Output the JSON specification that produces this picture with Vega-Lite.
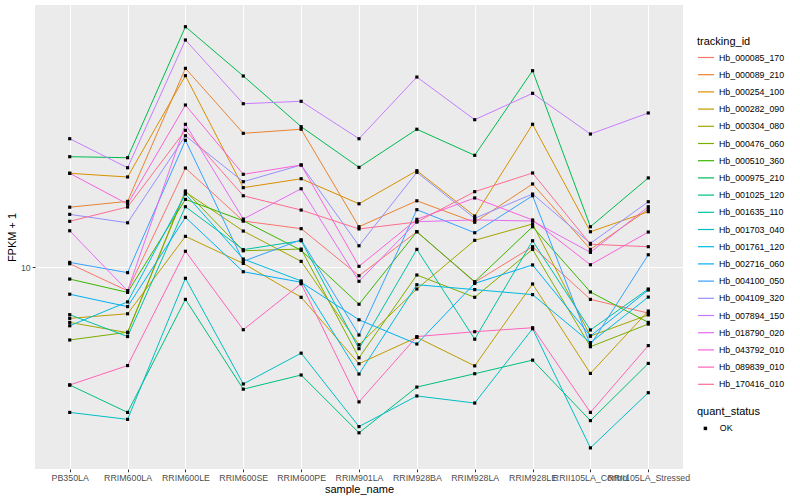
{
"$schema": "https://vega.github.io/schema/vega-lite/v6.json",
"autosize": {"type": "none"},
"padding": {"left": 35, "top": 5, "right": 117, "bottom": 31},
"width": 648,
"height": 464,
"background": "white",
"config": {
  "view": {"fill": "#EBEBEB", "stroke": null},
  "font": "Liberation Sans",
  "axis": {"domain": false, "tickColor": "#333333", "tickSize": 2.75, "tickWidth": 1, "labelColor": "#4D4D4D", "labelFontSize": 8.8, "labelFont": "Liberation Sans", "titleFont": "Liberation Sans", "titleFontSize": 11, "titleFontWeight": "normal", "titleColor": "black", "gridColor": "white", "gridWidth": 1.1, "labelPadding": 2},
  "legend": {"titleFont": "Liberation Sans", "titleFontSize": 11, "titleFontWeight": "normal", "titleColor": "black", "labelFont": "Liberation Sans", "labelFontSize": 8.8, "labelColor": "black", "padding": 0}
},
"data": {"values": [
{"tracking_id":"Hb_000085_170","sample_name":"PB350LA","fpkm":10.19,"quant_status":"OK"},
{"tracking_id":"Hb_000085_170","sample_name":"RRIM600LA","fpkm":8.72,"quant_status":"OK"},
{"tracking_id":"Hb_000085_170","sample_name":"RRIM600LE","fpkm":17.68,"quant_status":"OK"},
{"tracking_id":"Hb_000085_170","sample_name":"RRIM600SE","fpkm":13.03,"quant_status":"OK"},
{"tracking_id":"Hb_000085_170","sample_name":"RRIM600PE","fpkm":12.47,"quant_status":"OK"},
{"tracking_id":"Hb_000085_170","sample_name":"RRIM901LA","fpkm":9.51,"quant_status":"OK"},
{"tracking_id":"Hb_000085_170","sample_name":"RRIM928BA","fpkm":12.25,"quant_status":"OK"},
{"tracking_id":"Hb_000085_170","sample_name":"RRIM928LA","fpkm":9.16,"quant_status":"OK"},
{"tracking_id":"Hb_000085_170","sample_name":"RRIM928LE","fpkm":11.24,"quant_status":"OK"},
{"tracking_id":"Hb_000085_170","sample_name":"RRII105LA_Control","fpkm":8.30,"quant_status":"OK"},
{"tracking_id":"Hb_000085_170","sample_name":"RRII105LA_Stressed","fpkm":7.67,"quant_status":"OK"},
{"tracking_id":"Hb_000089_210","sample_name":"PB350LA","fpkm":14.11,"quant_status":"OK"},
{"tracking_id":"Hb_000089_210","sample_name":"RRIM600LA","fpkm":14.59,"quant_status":"OK"},
{"tracking_id":"Hb_000089_210","sample_name":"RRIM600LE","fpkm":31.39,"quant_status":"OK"},
{"tracking_id":"Hb_000089_210","sample_name":"RRIM600SE","fpkm":21.59,"quant_status":"OK"},
{"tracking_id":"Hb_000089_210","sample_name":"RRIM600PE","fpkm":22.10,"quant_status":"OK"},
{"tracking_id":"Hb_000089_210","sample_name":"RRIM901LA","fpkm":12.61,"quant_status":"OK"},
{"tracking_id":"Hb_000089_210","sample_name":"RRIM928BA","fpkm":14.64,"quant_status":"OK"},
{"tracking_id":"Hb_000089_210","sample_name":"RRIM928LA","fpkm":12.94,"quant_status":"OK"},
{"tracking_id":"Hb_000089_210","sample_name":"RRIM928LE","fpkm":16.13,"quant_status":"OK"},
{"tracking_id":"Hb_000089_210","sample_name":"RRII105LA_Control","fpkm":11.07,"quant_status":"OK"},
{"tracking_id":"Hb_000089_210","sample_name":"RRII105LA_Stressed","fpkm":13.94,"quant_status":"OK"},
{"tracking_id":"Hb_000254_100","sample_name":"PB350LA","fpkm":17.15,"quant_status":"OK"},
{"tracking_id":"Hb_000254_100","sample_name":"RRIM600LA","fpkm":16.79,"quant_status":"OK"},
{"tracking_id":"Hb_000254_100","sample_name":"RRIM600LE","fpkm":30.08,"quant_status":"OK"},
{"tracking_id":"Hb_000254_100","sample_name":"RRIM600SE","fpkm":15.79,"quant_status":"OK"},
{"tracking_id":"Hb_000254_100","sample_name":"RRIM600PE","fpkm":16.62,"quant_status":"OK"},
{"tracking_id":"Hb_000254_100","sample_name":"RRIM901LA","fpkm":14.39,"quant_status":"OK"},
{"tracking_id":"Hb_000254_100","sample_name":"RRIM928BA","fpkm":17.41,"quant_status":"OK"},
{"tracking_id":"Hb_000254_100","sample_name":"RRIM928LA","fpkm":13.41,"quant_status":"OK"},
{"tracking_id":"Hb_000254_100","sample_name":"RRIM928LE","fpkm":22.74,"quant_status":"OK"},
{"tracking_id":"Hb_000254_100","sample_name":"RRII105LA_Control","fpkm":12.25,"quant_status":"OK"},
{"tracking_id":"Hb_000254_100","sample_name":"RRII105LA_Stressed","fpkm":13.75,"quant_status":"OK"},
{"tracking_id":"Hb_000282_090","sample_name":"PB350LA","fpkm":7.44,"quant_status":"OK"},
{"tracking_id":"Hb_000282_090","sample_name":"RRIM600LA","fpkm":7.64,"quant_status":"OK"},
{"tracking_id":"Hb_000282_090","sample_name":"RRIM600LE","fpkm":11.93,"quant_status":"OK"},
{"tracking_id":"Hb_000282_090","sample_name":"RRIM600SE","fpkm":10.21,"quant_status":"OK"},
{"tracking_id":"Hb_000282_090","sample_name":"RRIM600PE","fpkm":8.40,"quant_status":"OK"},
{"tracking_id":"Hb_000282_090","sample_name":"RRIM901LA","fpkm":5.73,"quant_status":"OK"},
{"tracking_id":"Hb_000282_090","sample_name":"RRIM928BA","fpkm":6.67,"quant_status":"OK"},
{"tracking_id":"Hb_000282_090","sample_name":"RRIM928LA","fpkm":5.66,"quant_status":"OK"},
{"tracking_id":"Hb_000282_090","sample_name":"RRIM928LE","fpkm":9.07,"quant_status":"OK"},
{"tracking_id":"Hb_000282_090","sample_name":"RRII105LA_Control","fpkm":5.42,"quant_status":"OK"},
{"tracking_id":"Hb_000282_090","sample_name":"RRII105LA_Stressed","fpkm":7.76,"quant_status":"OK"},
{"tracking_id":"Hb_000304_080","sample_name":"PB350LA","fpkm":7.27,"quant_status":"OK"},
{"tracking_id":"Hb_000304_080","sample_name":"RRIM600LA","fpkm":6.85,"quant_status":"OK"},
{"tracking_id":"Hb_000304_080","sample_name":"RRIM600LE","fpkm":15.40,"quant_status":"OK"},
{"tracking_id":"Hb_000304_080","sample_name":"RRIM600SE","fpkm":12.30,"quant_status":"OK"},
{"tracking_id":"Hb_000304_080","sample_name":"RRIM600PE","fpkm":10.33,"quant_status":"OK"},
{"tracking_id":"Hb_000304_080","sample_name":"RRIM901LA","fpkm":6.39,"quant_status":"OK"},
{"tracking_id":"Hb_000304_080","sample_name":"RRIM928BA","fpkm":8.81,"quant_status":"OK"},
{"tracking_id":"Hb_000304_080","sample_name":"RRIM928LA","fpkm":11.66,"quant_status":"OK"},
{"tracking_id":"Hb_000304_080","sample_name":"RRIM928LE","fpkm":12.81,"quant_status":"OK"},
{"tracking_id":"Hb_000304_080","sample_name":"RRII105LA_Control","fpkm":6.72,"quant_status":"OK"},
{"tracking_id":"Hb_000304_080","sample_name":"RRII105LA_Stressed","fpkm":7.59,"quant_status":"OK"},
{"tracking_id":"Hb_000476_060","sample_name":"PB350LA","fpkm":6.57,"quant_status":"OK"},
{"tracking_id":"Hb_000476_060","sample_name":"RRIM600LA","fpkm":6.87,"quant_status":"OK"},
{"tracking_id":"Hb_000476_060","sample_name":"RRIM600LE","fpkm":15.49,"quant_status":"OK"},
{"tracking_id":"Hb_000476_060","sample_name":"RRIM600SE","fpkm":10.98,"quant_status":"OK"},
{"tracking_id":"Hb_000476_060","sample_name":"RRIM600PE","fpkm":11.09,"quant_status":"OK"},
{"tracking_id":"Hb_000476_060","sample_name":"RRIM901LA","fpkm":5.93,"quant_status":"OK"},
{"tracking_id":"Hb_000476_060","sample_name":"RRIM928BA","fpkm":9.55,"quant_status":"OK"},
{"tracking_id":"Hb_000476_060","sample_name":"RRIM928LA","fpkm":8.40,"quant_status":"OK"},
{"tracking_id":"Hb_000476_060","sample_name":"RRIM928LE","fpkm":11.07,"quant_status":"OK"},
{"tracking_id":"Hb_000476_060","sample_name":"RRII105LA_Control","fpkm":6.32,"quant_status":"OK"},
{"tracking_id":"Hb_000476_060","sample_name":"RRII105LA_Stressed","fpkm":7.20,"quant_status":"OK"},
{"tracking_id":"Hb_000510_360","sample_name":"PB350LA","fpkm":9.33,"quant_status":"OK"},
{"tracking_id":"Hb_000510_360","sample_name":"RRIM600LA","fpkm":8.64,"quant_status":"OK"},
{"tracking_id":"Hb_000510_360","sample_name":"RRIM600LE","fpkm":14.76,"quant_status":"OK"},
{"tracking_id":"Hb_000510_360","sample_name":"RRIM600SE","fpkm":13.05,"quant_status":"OK"},
{"tracking_id":"Hb_000510_360","sample_name":"RRIM600PE","fpkm":11.01,"quant_status":"OK"},
{"tracking_id":"Hb_000510_360","sample_name":"RRIM901LA","fpkm":8.07,"quant_status":"OK"},
{"tracking_id":"Hb_000510_360","sample_name":"RRIM928BA","fpkm":12.25,"quant_status":"OK"},
{"tracking_id":"Hb_000510_360","sample_name":"RRIM928LA","fpkm":9.19,"quant_status":"OK"},
{"tracking_id":"Hb_000510_360","sample_name":"RRIM928LE","fpkm":12.61,"quant_status":"OK"},
{"tracking_id":"Hb_000510_360","sample_name":"RRII105LA_Control","fpkm":8.66,"quant_status":"OK"},
{"tracking_id":"Hb_000510_360","sample_name":"RRII105LA_Stressed","fpkm":7.27,"quant_status":"OK"},
{"tracking_id":"Hb_000975_210","sample_name":"PB350LA","fpkm":18.87,"quant_status":"OK"},
{"tracking_id":"Hb_000975_210","sample_name":"RRIM600LA","fpkm":18.76,"quant_status":"OK"},
{"tracking_id":"Hb_000975_210","sample_name":"RRIM600LE","fpkm":39.88,"quant_status":"OK"},
{"tracking_id":"Hb_000975_210","sample_name":"RRIM600SE","fpkm":30.03,"quant_status":"OK"},
{"tracking_id":"Hb_000975_210","sample_name":"RRIM600PE","fpkm":22.43,"quant_status":"OK"},
{"tracking_id":"Hb_000975_210","sample_name":"RRIM901LA","fpkm":17.75,"quant_status":"OK"},
{"tracking_id":"Hb_000975_210","sample_name":"RRIM928BA","fpkm":22.10,"quant_status":"OK"},
{"tracking_id":"Hb_000975_210","sample_name":"RRIM928LA","fpkm":19.02,"quant_status":"OK"},
{"tracking_id":"Hb_000975_210","sample_name":"RRIM928LE","fpkm":30.96,"quant_status":"OK"},
{"tracking_id":"Hb_000975_210","sample_name":"RRII105LA_Control","fpkm":12.61,"quant_status":"OK"},
{"tracking_id":"Hb_000975_210","sample_name":"RRII105LA_Stressed","fpkm":16.70,"quant_status":"OK"},
{"tracking_id":"Hb_001025_120","sample_name":"PB350LA","fpkm":5.07,"quant_status":"OK"},
{"tracking_id":"Hb_001025_120","sample_name":"RRIM600LA","fpkm":4.33,"quant_status":"OK"},
{"tracking_id":"Hb_001025_120","sample_name":"RRIM600LE","fpkm":8.30,"quant_status":"OK"},
{"tracking_id":"Hb_001025_120","sample_name":"RRIM600SE","fpkm":4.95,"quant_status":"OK"},
{"tracking_id":"Hb_001025_120","sample_name":"RRIM600PE","fpkm":5.37,"quant_status":"OK"},
{"tracking_id":"Hb_001025_120","sample_name":"RRIM901LA","fpkm":3.85,"quant_status":"OK"},
{"tracking_id":"Hb_001025_120","sample_name":"RRIM928BA","fpkm":5.01,"quant_status":"OK"},
{"tracking_id":"Hb_001025_120","sample_name":"RRIM928LA","fpkm":5.41,"quant_status":"OK"},
{"tracking_id":"Hb_001025_120","sample_name":"RRIM928LE","fpkm":5.85,"quant_status":"OK"},
{"tracking_id":"Hb_001025_120","sample_name":"RRII105LA_Control","fpkm":4.13,"quant_status":"OK"},
{"tracking_id":"Hb_001025_120","sample_name":"RRII105LA_Stressed","fpkm":5.74,"quant_status":"OK"},
{"tracking_id":"Hb_001635_110","sample_name":"PB350LA","fpkm":7.60,"quant_status":"OK"},
{"tracking_id":"Hb_001635_110","sample_name":"RRIM600LA","fpkm":6.70,"quant_status":"OK"},
{"tracking_id":"Hb_001635_110","sample_name":"RRIM600LE","fpkm":14.15,"quant_status":"OK"},
{"tracking_id":"Hb_001635_110","sample_name":"RRIM600SE","fpkm":11.05,"quant_status":"OK"},
{"tracking_id":"Hb_001635_110","sample_name":"RRIM600PE","fpkm":11.63,"quant_status":"OK"},
{"tracking_id":"Hb_001635_110","sample_name":"RRIM901LA","fpkm":6.25,"quant_status":"OK"},
{"tracking_id":"Hb_001635_110","sample_name":"RRIM928BA","fpkm":11.07,"quant_status":"OK"},
{"tracking_id":"Hb_001635_110","sample_name":"RRIM928LA","fpkm":6.60,"quant_status":"OK"},
{"tracking_id":"Hb_001635_110","sample_name":"RRIM928LE","fpkm":11.63,"quant_status":"OK"},
{"tracking_id":"Hb_001635_110","sample_name":"RRII105LA_Control","fpkm":6.96,"quant_status":"OK"},
{"tracking_id":"Hb_001635_110","sample_name":"RRII105LA_Stressed","fpkm":8.81,"quant_status":"OK"},
{"tracking_id":"Hb_001703_040","sample_name":"PB350LA","fpkm":4.33,"quant_status":"OK"},
{"tracking_id":"Hb_001703_040","sample_name":"RRIM600LA","fpkm":4.16,"quant_status":"OK"},
{"tracking_id":"Hb_001703_040","sample_name":"RRIM600LE","fpkm":9.37,"quant_status":"OK"},
{"tracking_id":"Hb_001703_040","sample_name":"RRIM600SE","fpkm":5.10,"quant_status":"OK"},
{"tracking_id":"Hb_001703_040","sample_name":"RRIM600PE","fpkm":6.09,"quant_status":"OK"},
{"tracking_id":"Hb_001703_040","sample_name":"RRIM901LA","fpkm":3.99,"quant_status":"OK"},
{"tracking_id":"Hb_001703_040","sample_name":"RRIM928BA","fpkm":4.76,"quant_status":"OK"},
{"tracking_id":"Hb_001703_040","sample_name":"RRIM928LA","fpkm":4.57,"quant_status":"OK"},
{"tracking_id":"Hb_001703_040","sample_name":"RRIM928LE","fpkm":7.01,"quant_status":"OK"},
{"tracking_id":"Hb_001703_040","sample_name":"RRII105LA_Control","fpkm":3.53,"quant_status":"OK"},
{"tracking_id":"Hb_001703_040","sample_name":"RRII105LA_Stressed","fpkm":4.85,"quant_status":"OK"},
{"tracking_id":"Hb_001761_120","sample_name":"PB350LA","fpkm":7.13,"quant_status":"OK"},
{"tracking_id":"Hb_001761_120","sample_name":"RRIM600LA","fpkm":8.18,"quant_status":"OK"},
{"tracking_id":"Hb_001761_120","sample_name":"RRIM600LE","fpkm":15.22,"quant_status":"OK"},
{"tracking_id":"Hb_001761_120","sample_name":"RRIM600SE","fpkm":10.47,"quant_status":"OK"},
{"tracking_id":"Hb_001761_120","sample_name":"RRIM600PE","fpkm":9.23,"quant_status":"OK"},
{"tracking_id":"Hb_001761_120","sample_name":"RRIM901LA","fpkm":5.40,"quant_status":"OK"},
{"tracking_id":"Hb_001761_120","sample_name":"RRIM928BA","fpkm":9.03,"quant_status":"OK"},
{"tracking_id":"Hb_001761_120","sample_name":"RRIM928LA","fpkm":8.78,"quant_status":"OK"},
{"tracking_id":"Hb_001761_120","sample_name":"RRIM928LE","fpkm":8.53,"quant_status":"OK"},
{"tracking_id":"Hb_001761_120","sample_name":"RRII105LA_Control","fpkm":6.47,"quant_status":"OK"},
{"tracking_id":"Hb_001761_120","sample_name":"RRII105LA_Stressed","fpkm":8.41,"quant_status":"OK"},
{"tracking_id":"Hb_002716_060","sample_name":"PB350LA","fpkm":8.55,"quant_status":"OK"},
{"tracking_id":"Hb_002716_060","sample_name":"RRIM600LA","fpkm":7.96,"quant_status":"OK"},
{"tracking_id":"Hb_002716_060","sample_name":"RRIM600LE","fpkm":13.31,"quant_status":"OK"},
{"tracking_id":"Hb_002716_060","sample_name":"RRIM600SE","fpkm":9.73,"quant_status":"OK"},
{"tracking_id":"Hb_002716_060","sample_name":"RRIM600PE","fpkm":9.16,"quant_status":"OK"},
{"tracking_id":"Hb_002716_060","sample_name":"RRIM901LA","fpkm":7.38,"quant_status":"OK"},
{"tracking_id":"Hb_002716_060","sample_name":"RRIM928BA","fpkm":6.42,"quant_status":"OK"},
{"tracking_id":"Hb_002716_060","sample_name":"RRIM928LA","fpkm":9.10,"quant_status":"OK"},
{"tracking_id":"Hb_002716_060","sample_name":"RRIM928LE","fpkm":10.12,"quant_status":"OK"},
{"tracking_id":"Hb_002716_060","sample_name":"RRII105LA_Control","fpkm":6.72,"quant_status":"OK"},
{"tracking_id":"Hb_002716_060","sample_name":"RRII105LA_Stressed","fpkm":8.76,"quant_status":"OK"},
{"tracking_id":"Hb_004100_050","sample_name":"PB350LA","fpkm":10.27,"quant_status":"OK"},
{"tracking_id":"Hb_004100_050","sample_name":"RRIM600LA","fpkm":9.68,"quant_status":"OK"},
{"tracking_id":"Hb_004100_050","sample_name":"RRIM600LE","fpkm":20.74,"quant_status":"OK"},
{"tracking_id":"Hb_004100_050","sample_name":"RRIM600SE","fpkm":10.33,"quant_status":"OK"},
{"tracking_id":"Hb_004100_050","sample_name":"RRIM600PE","fpkm":11.70,"quant_status":"OK"},
{"tracking_id":"Hb_004100_050","sample_name":"RRIM901LA","fpkm":6.76,"quant_status":"OK"},
{"tracking_id":"Hb_004100_050","sample_name":"RRIM928BA","fpkm":13.91,"quant_status":"OK"},
{"tracking_id":"Hb_004100_050","sample_name":"RRIM928LA","fpkm":12.18,"quant_status":"OK"},
{"tracking_id":"Hb_004100_050","sample_name":"RRIM928LE","fpkm":15.07,"quant_status":"OK"},
{"tracking_id":"Hb_004100_050","sample_name":"RRII105LA_Control","fpkm":6.38,"quant_status":"OK"},
{"tracking_id":"Hb_004100_050","sample_name":"RRII105LA_Stressed","fpkm":10.73,"quant_status":"OK"},
{"tracking_id":"Hb_004109_320","sample_name":"PB350LA","fpkm":13.54,"quant_status":"OK"},
{"tracking_id":"Hb_004109_320","sample_name":"RRIM600LA","fpkm":12.90,"quant_status":"OK"},
{"tracking_id":"Hb_004109_320","sample_name":"RRIM600LE","fpkm":21.29,"quant_status":"OK"},
{"tracking_id":"Hb_004109_320","sample_name":"RRIM600SE","fpkm":16.34,"quant_status":"OK"},
{"tracking_id":"Hb_004109_320","sample_name":"RRIM600PE","fpkm":17.99,"quant_status":"OK"},
{"tracking_id":"Hb_004109_320","sample_name":"RRIM901LA","fpkm":11.30,"quant_status":"OK"},
{"tracking_id":"Hb_004109_320","sample_name":"RRIM928BA","fpkm":17.25,"quant_status":"OK"},
{"tracking_id":"Hb_004109_320","sample_name":"RRIM928LA","fpkm":13.24,"quant_status":"OK"},
{"tracking_id":"Hb_004109_320","sample_name":"RRIM928LE","fpkm":15.22,"quant_status":"OK"},
{"tracking_id":"Hb_004109_320","sample_name":"RRII105LA_Control","fpkm":11.46,"quant_status":"OK"},
{"tracking_id":"Hb_004109_320","sample_name":"RRII105LA_Stressed","fpkm":14.56,"quant_status":"OK"},
{"tracking_id":"Hb_007894_150","sample_name":"PB350LA","fpkm":20.93,"quant_status":"OK"},
{"tracking_id":"Hb_007894_150","sample_name":"RRIM600LA","fpkm":17.71,"quant_status":"OK"},
{"tracking_id":"Hb_007894_150","sample_name":"RRIM600LE","fpkm":36.94,"quant_status":"OK"},
{"tracking_id":"Hb_007894_150","sample_name":"RRIM600SE","fpkm":25.60,"quant_status":"OK"},
{"tracking_id":"Hb_007894_150","sample_name":"RRIM600PE","fpkm":25.96,"quant_status":"OK"},
{"tracking_id":"Hb_007894_150","sample_name":"RRIM901LA","fpkm":20.93,"quant_status":"OK"},
{"tracking_id":"Hb_007894_150","sample_name":"RRIM928BA","fpkm":29.85,"quant_status":"OK"},
{"tracking_id":"Hb_007894_150","sample_name":"RRIM928LA","fpkm":23.35,"quant_status":"OK"},
{"tracking_id":"Hb_007894_150","sample_name":"RRIM928LE","fpkm":27.18,"quant_status":"OK"},
{"tracking_id":"Hb_007894_150","sample_name":"RRII105LA_Control","fpkm":21.50,"quant_status":"OK"},
{"tracking_id":"Hb_007894_150","sample_name":"RRII105LA_Stressed","fpkm":24.27,"quant_status":"OK"},
{"tracking_id":"Hb_018790_020","sample_name":"PB350LA","fpkm":12.32,"quant_status":"OK"},
{"tracking_id":"Hb_018790_020","sample_name":"RRIM600LA","fpkm":8.72,"quant_status":"OK"},
{"tracking_id":"Hb_018790_020","sample_name":"RRIM600LE","fpkm":22.74,"quant_status":"OK"},
{"tracking_id":"Hb_018790_020","sample_name":"RRIM600SE","fpkm":13.18,"quant_status":"OK"},
{"tracking_id":"Hb_018790_020","sample_name":"RRIM600PE","fpkm":15.69,"quant_status":"OK"},
{"tracking_id":"Hb_018790_020","sample_name":"RRIM901LA","fpkm":9.21,"quant_status":"OK"},
{"tracking_id":"Hb_018790_020","sample_name":"RRIM928BA","fpkm":12.98,"quant_status":"OK"},
{"tracking_id":"Hb_018790_020","sample_name":"RRIM928LA","fpkm":13.11,"quant_status":"OK"},
{"tracking_id":"Hb_018790_020","sample_name":"RRIM928LE","fpkm":13.03,"quant_status":"OK"},
{"tracking_id":"Hb_018790_020","sample_name":"RRII105LA_Control","fpkm":10.88,"quant_status":"OK"},
{"tracking_id":"Hb_018790_020","sample_name":"RRII105LA_Stressed","fpkm":14.15,"quant_status":"OK"},
{"tracking_id":"Hb_043792_010","sample_name":"PB350LA","fpkm":17.15,"quant_status":"OK"},
{"tracking_id":"Hb_043792_010","sample_name":"RRIM600LA","fpkm":14.37,"quant_status":"OK"},
{"tracking_id":"Hb_043792_010","sample_name":"RRIM600LE","fpkm":25.41,"quant_status":"OK"},
{"tracking_id":"Hb_043792_010","sample_name":"RRIM600SE","fpkm":17.05,"quant_status":"OK"},
{"tracking_id":"Hb_043792_010","sample_name":"RRIM600PE","fpkm":17.99,"quant_status":"OK"},
{"tracking_id":"Hb_043792_010","sample_name":"RRIM901LA","fpkm":10.04,"quant_status":"OK"},
{"tracking_id":"Hb_043792_010","sample_name":"RRIM928BA","fpkm":13.16,"quant_status":"OK"},
{"tracking_id":"Hb_043792_010","sample_name":"RRIM928LA","fpkm":14.88,"quant_status":"OK"},
{"tracking_id":"Hb_043792_010","sample_name":"RRIM928LE","fpkm":13.11,"quant_status":"OK"},
{"tracking_id":"Hb_043792_010","sample_name":"RRII105LA_Control","fpkm":10.13,"quant_status":"OK"},
{"tracking_id":"Hb_043792_010","sample_name":"RRII105LA_Stressed","fpkm":12.23,"quant_status":"OK"},
{"tracking_id":"Hb_089839_010","sample_name":"PB350LA","fpkm":5.07,"quant_status":"OK"},
{"tracking_id":"Hb_089839_010","sample_name":"RRIM600LA","fpkm":5.67,"quant_status":"OK"},
{"tracking_id":"Hb_089839_010","sample_name":"RRIM600LE","fpkm":10.95,"quant_status":"OK"},
{"tracking_id":"Hb_089839_010","sample_name":"RRIM600SE","fpkm":6.97,"quant_status":"OK"},
{"tracking_id":"Hb_089839_010","sample_name":"RRIM600PE","fpkm":9.08,"quant_status":"OK"},
{"tracking_id":"Hb_089839_010","sample_name":"RRIM901LA","fpkm":4.60,"quant_status":"OK"},
{"tracking_id":"Hb_089839_010","sample_name":"RRIM928BA","fpkm":6.70,"quant_status":"OK"},
{"tracking_id":"Hb_089839_010","sample_name":"RRIM928LA","fpkm":6.89,"quant_status":"OK"},
{"tracking_id":"Hb_089839_010","sample_name":"RRIM928LE","fpkm":7.05,"quant_status":"OK"},
{"tracking_id":"Hb_089839_010","sample_name":"RRII105LA_Control","fpkm":4.33,"quant_status":"OK"},
{"tracking_id":"Hb_089839_010","sample_name":"RRII105LA_Stressed","fpkm":6.36,"quant_status":"OK"},
{"tracking_id":"Hb_170416_010","sample_name":"PB350LA","fpkm":13.01,"quant_status":"OK"},
{"tracking_id":"Hb_170416_010","sample_name":"RRIM600LA","fpkm":14.13,"quant_status":"OK"},
{"tracking_id":"Hb_170416_010","sample_name":"RRIM600LE","fpkm":21.97,"quant_status":"OK"},
{"tracking_id":"Hb_170416_010","sample_name":"RRIM600SE","fpkm":15.07,"quant_status":"OK"},
{"tracking_id":"Hb_170416_010","sample_name":"RRIM600PE","fpkm":13.88,"quant_status":"OK"},
{"tracking_id":"Hb_170416_010","sample_name":"RRIM901LA","fpkm":12.45,"quant_status":"OK"},
{"tracking_id":"Hb_170416_010","sample_name":"RRIM928BA","fpkm":12.96,"quant_status":"OK"},
{"tracking_id":"Hb_170416_010","sample_name":"RRIM928LA","fpkm":15.43,"quant_status":"OK"},
{"tracking_id":"Hb_170416_010","sample_name":"RRIM928LE","fpkm":17.18,"quant_status":"OK"},
{"tracking_id":"Hb_170416_010","sample_name":"RRII105LA_Control","fpkm":11.40,"quant_status":"OK"},
{"tracking_id":"Hb_170416_010","sample_name":"RRII105LA_Stressed","fpkm":11.24,"quant_status":"OK"}
]},
"encoding": {
  "x": {"field": "sample_name", "type": "ordinal",
    "sort": ["PB350LA","RRIM600LA","RRIM600LE","RRIM600SE","RRIM600PE","RRIM901LA","RRIM928BA","RRIM928LA","RRIM928LE","RRII105LA_Control","RRII105LA_Stressed"],
    "scale": {"type": "point", "padding": 0.6},
    "axis": {"title": "sample_name", "labelAngle": 0, "labelOverlap": false, "grid": true, "titlePadding": 1}},
  "y": {"field": "fpkm", "type": "quantitative",
    "scale": {"type": "log", "domain": [3.126, 45.19], "nice": false},
    "axis": {"title": "FPKM + 1", "values": [10], "grid": true, "titlePadding": 3}}
},
"layer": [
  {"mark": {"type": "line", "strokeWidth": 1},
   "encoding": {
     "color": {"field": "tracking_id", "type": "nominal",
       "scale": {
         "domain": ["Hb_000085_170","Hb_000089_210","Hb_000254_100","Hb_000282_090","Hb_000304_080","Hb_000476_060","Hb_000510_360","Hb_000975_210","Hb_001025_120","Hb_001635_110","Hb_001703_040","Hb_001761_120","Hb_002716_060","Hb_004100_050","Hb_004109_320","Hb_007894_150","Hb_018790_020","Hb_043792_010","Hb_089839_010","Hb_170416_010"],
         "range": ["#F8766D","#EA8331","#D89000","#C09B00","#A3A500","#7CAE00","#39B600","#00BB4E","#00BF7D","#00C1A3","#00BFC4","#00BAE0","#00B0F6","#35A2FF","#9590FF","#C77CFF","#E76BF3","#FA62DB","#FF62BC","#FF6C91"]},
       "legend": {"orient": "none", "legendX": 662, "legendY": 31, "title": "tracking_id", "symbolType": "stroke", "symbolSize": 256, "symbolStrokeWidth": 1.2, "rowPadding": 3.2, "titlePadding": 1.5, "labelOffset": 4}}
   }},
  {"mark": {"type": "point", "filled": true, "opacity": 1, "size": 10, "color": "black"},
   "encoding": {
     "shape": {"field": "quant_status", "type": "nominal", "scale": {"range": ["square"]},
       "legend": {"orient": "none", "legendX": 662, "legendY": 401, "title": "quant_status", "symbolSize": 12, "symbolFillColor": "black", "symbolStrokeColor": "black", "titlePadding": 7, "labelOffset": 10, "symbolOffset": 4}}
   }}
]
}
